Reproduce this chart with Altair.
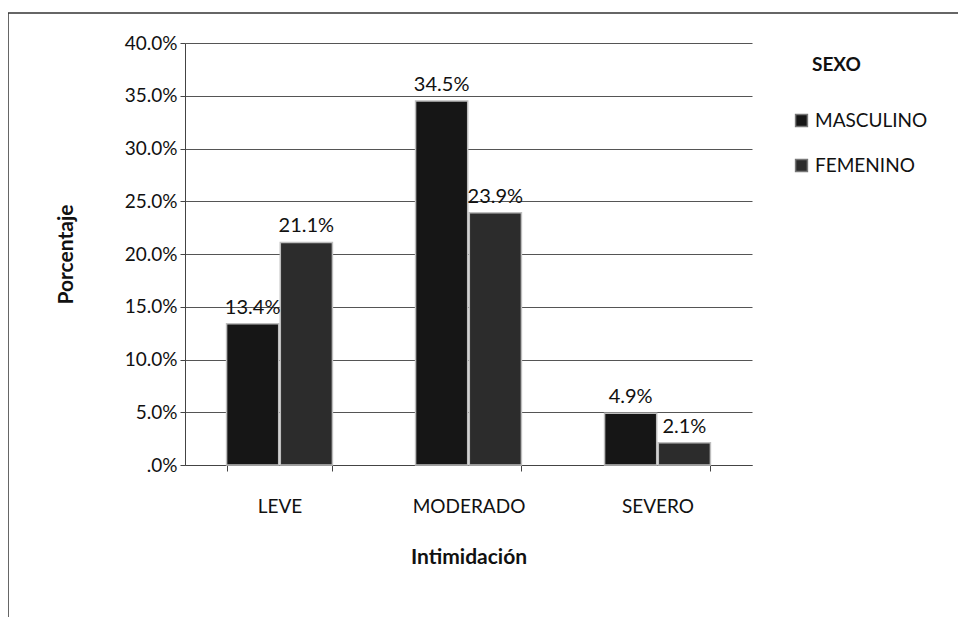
import altair as alt
import pandas as pd

categories = ["LEVE", "MODERADO", "SEVERO"]
series = ["MASCULINO", "FEMENINO"]
masculino = [13.4, 34.5, 4.9]
femenino = [21.1, 23.9, 2.1]
y_ticks = [0, 5, 10, 15, 20, 25, 30, 35, 40]

rows = []
for c, m, f in zip(categories, masculino, femenino):
    rows.append({"cat": c, "sexo": "MASCULINO", "pct": m})
    rows.append({"cat": c, "sexo": "FEMENINO", "pct": f})
df = pd.DataFrame(rows)

FONT = "Lato"
colors = ["#161616", "#2c2c2c"]

x_enc = alt.X(
    "cat:N",
    sort=categories,
    scale=alt.Scale(paddingInner=0.44, paddingOuter=0.22),
    axis=alt.Axis(
        title="Intimidación",
        labelAngle=0,
        tickBand="extent",
        tickSize=6,
        labelPadding=26,
        titlePadding=30,
        domainColor="#444",
        tickColor="#444",
    ),
)
y_enc = alt.Y(
    "pct:Q",
    scale=alt.Scale(domain=[0, 40], nice=False),
    axis=alt.Axis(
        title="Porcentaje",
        values=y_ticks,
        labelExpr="datum.value == 0 ? '.0%' : format(datum.value, '.1f') + '%'",
        tickSize=5,
        labelPadding=3,
        titlePadding=48,
        grid=True,
        gridColor="#555",
        gridWidth=1,
        domainColor="#444",
        tickColor="#444",
    ),
)
xoff = alt.XOffset("sexo:N", sort=series, scale=alt.Scale(paddingInner=0.03))
color = alt.Color(
    "sexo:N",
    sort=series,
    scale=alt.Scale(domain=series, range=colors),
    legend=alt.Legend(
        title=None,
        orient="none",
        legendX=607,
        legendY=68,
        symbolType="square",
        symbolSize=140,
        symbolStrokeColor="#777",
        symbolStrokeWidth=1.5,
        labelFont=FONT,
        labelFontSize=19,
        labelColor="#111",
        rowPadding=25,
        labelOffset=4,
    ),
)

base = alt.Chart(df)
bars = base.mark_bar(stroke="#bdbdbd", strokeWidth=1.5).encode(
    x=x_enc, xOffset=xoff, y=y_enc, color=color
)
labels = base.transform_calculate(
    lab="format(datum.pct, '.1f') + '%'"
).mark_text(baseline="bottom", dy=-6, font=FONT, fontSize=20, color="#111").encode(
    x=alt.X("cat:N", sort=categories), xOffset=xoff, y="pct:Q", text="lab:N"
)

frame_top = alt.Chart(pd.DataFrame({"a": [0]})).mark_rule(color="#333", strokeWidth=1.5).encode(
    x=alt.value(-177), x2=alt.value(773), y=alt.value(-30)
)
frame_left = alt.Chart(pd.DataFrame({"a": [0]})).mark_rule(color="#333", strokeWidth=1.5).encode(
    x=alt.value(-177), y=alt.value(-30), y2=alt.value(574)
)
legend_title = alt.Chart(pd.DataFrame({"t": ["SEXO"]})).mark_text(
    font=FONT, fontSize=19, fontWeight="bold", color="#111", align="left"
).encode(x=alt.value(627), y=alt.value(22), text="t:N")

chart = (
    alt.layer(bars, labels, frame_top, frame_left, legend_title)
    .properties(
        width=567,
        height=422,
        autosize=alt.AutoSizeParams(type="none"),
        padding={"left": 177, "top": 35, "right": 206, "bottom": 152},
    )
    .configure_view(stroke=None)
    .configure_axis(
        labelFont=FONT,
        titleFont=FONT,
        labelFontSize=19,
        titleFontSize=21,
        titleFontWeight="bold",
        labelColor="#111",
        titleColor="#111",
    )
)

chart.save("out.html", embed_options={"renderer": "svg", "actions": False})
